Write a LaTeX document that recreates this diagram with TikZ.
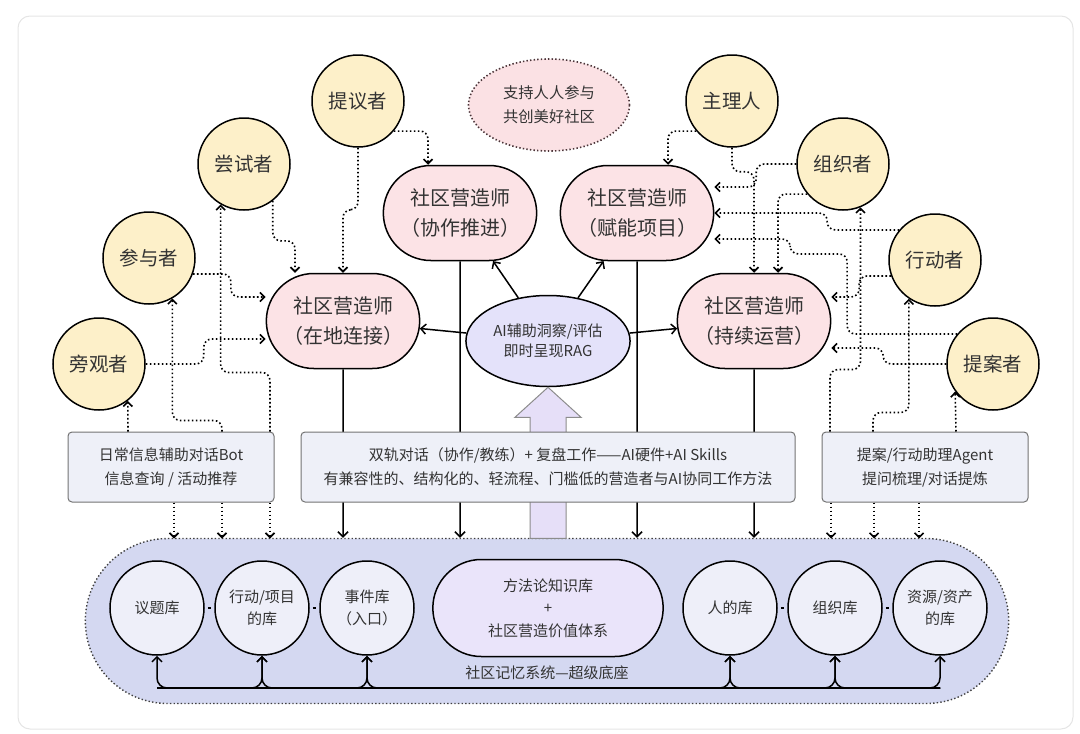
\documentclass[tikz,border=0pt]{standalone}
\usepackage{fontspec}
\setmainfont{Noto Sans CJK SC}
\usetikzlibrary{shapes.geometric,shapes.misc,arrows.meta}

\definecolor{giallo}{HTML}{FDF0C9}
\definecolor{rosa}{HTML}{FCE3E6}
\definecolor{rosamotto}{HTML}{FBE1E4}
\definecolor{bordorosa}{HTML}{4A3438}
\definecolor{lilla}{HTML}{E4E2FA}
\definecolor{azzurrino}{HTML}{EEF0F8}
\definecolor{fondoblu}{HTML}{D4D8F1}
\definecolor{cerchiochiaro}{HTML}{EEEFF9}
\definecolor{viola}{HTML}{EAE4FA}
\definecolor{frecciaviola}{HTML}{E6DFF8}
\definecolor{testo}{HTML}{333333}

\begin{document}
\begin{tikzpicture}[
    x=1pt,y=-1pt,
    font=\fontsize{15}{20}\selectfont,
    text=testo,
    ruolo/.style={circle,draw,line width=1.5pt,fill=giallo,inner sep=0pt,
                  minimum size=92pt,font=\fontsize{19.5}{24}\selectfont},
    facilitatore/.style={rounded rectangle,draw,line width=1.5pt,fill=rosa,
                  minimum width=160pt,minimum height=95pt,align=center,
                  font=\fontsize{20}{30}\selectfont},
    motto/.style={ellipse,draw=bordorosa,line width=1.6pt,
                  dash pattern=on 1.4pt off 2.2pt,fill=rosamotto,
                  minimum width=161pt,minimum height=92pt,align=center,
                  font=\fontsize{15.3}{24}\selectfont},
    aiuto/.style={ellipse,draw,line width=1.5pt,fill=lilla,
                  minimum width=160pt,minimum height=91pt,align=center},
    casella/.style={rectangle,rounded corners=4pt,draw=black!55,line width=1pt,
                  fill=azzurrino,minimum height=70pt,align=center,
                  font=\fontsize{15}{24}\selectfont},
    fondo/.style={rounded rectangle,draw=black!75,line width=1.4pt,
                  dash pattern=on 1.4pt off 2.2pt,fill=fondoblu,
                  minimum width=930pt,minimum height=165pt},
    archivio/.style={circle,draw,line width=1.5pt,fill=cerchiochiaro,
                  inner sep=0pt,minimum size=94pt,align=center,
                  font=\fontsize{15}{22}\selectfont},
    metodo/.style={rounded rectangle,draw,line width=1.5pt,fill=viola,
                  minimum width=237pt,minimum height=97pt,align=center,
                  font=\fontsize{15}{22.5}\selectfont},
    freccia/.style={line width=1.5pt,-{Straight Barb[length=5pt,width=10pt]}},
    punti/.style={line width=1.6pt,dash pattern=on 1.6pt off 2.4pt,
                  rounded corners=8pt,-{Straight Barb[length=4.5pt,width=9pt]}},
    bus/.style={line width=1.5pt,rounded corners=10pt,
                  -{Straight Barb[length=5pt,width=10pt]}},
    trattino/.style={line width=1.3pt,shorten <=3pt,shorten >=3pt},
    frecciona/.style={draw=black!45,line width=1pt,fill=frecciaviola},
    cornice/.style={draw=black!10,line width=1pt,rounded corners=12pt}]

  \useasboundingbox (0,0) rectangle (1080,734);
  \draw[cornice] (18,16) rectangle (1073,729);

  % ---- ruoli (cerchi gialli) ------------------------------------------------
  \node[ruolo] (tiyi)     at (358,101) {提议者};
  \node[ruolo] (changshi) at (244,164) {尝试者};
  \node[ruolo] (canyu)    at (149,258) {参与者};
  \node[ruolo] (pangguan) at ( 99,364) {旁观者};
  \node[ruolo] (zhuli)    at (732,101) {主理人};
  \node[ruolo] (zuzhi)    at (843,164) {组织者};
  \node[ruolo] (xingdong) at (935,260) {行动者};
  \node[ruolo] (tian)     at (993,364) {提案者};

  % ---- quattro facilitatori e l'aiuto AI ------------------------------------
  \node[facilitatore] (xiezuo) at (460,213) {社区营造师\\（协作推进）};
  \node[facilitatore] (funeng) at (637,213) {社区营造师\\（赋能项目）};
  \node[facilitatore] (zaidi)  at (343,321) {社区营造师\\（在地连接）};
  \node[facilitatore] (chixu)  at (754,321) {社区营造师\\（持续运营）};
  \node[aiuto] (ai)    at (548,341) {AI辅助洞察/评估\\即时呈现RAG};
  \node[motto] (motto) at (549,105) {支持人人参与\\共创美好社区};

  % ---- base: memoria della comunità -----------------------------------------
  \node[fondo] (fondo) at (547,621) {};
  \node[archivio] (yiti)    at (157,608) {议题库};
  \node[archivio] (xdk)     at (262,608) {行动/项目\\的库};
  \node[archivio] (shijian) at (367,608) {事件库\\（入口）};
  \node[metodo]   (metodo)  at (548,608) {方法论知识库\\+\\社区营造价值体系};
  \node[archivio] (ren)     at (730,608) {人的库};
  \node[archivio] (zzk)     at (835,608) {组织库};
  \node[archivio] (ziyuan)  at (940,608) {资源/资产\\的库};
  \node (memoria) at (547,673) {社区记忆系统—超级底座};

  \draw[trattino] (yiti) -- (xdk);
  \draw[trattino] (xdk) -- (shijian);
  \draw[trattino] (ren) -- (zzk);
  \draw[trattino] (zzk) -- (ziyuan);

  \coordinate (busL) at (157,688);
  \coordinate (busR) at (940,688);
  \draw[bus] (busR) -| (yiti);
  \draw[bus] (busL) -| (xdk);
  \draw[bus] (busR) -| (xdk);
  \draw[bus] (busL) -| (shijian);
  \draw[bus] (busR) -| (shijian);
  \draw[bus] (busL) -| (ren);
  \draw[bus] (busR) -| (ren);
  \draw[bus] (busL) -| (zzk);
  \draw[bus] (busR) -| (zzk);
  \draw[bus] (busL) -| (ziyuan);

  % ---- freccia larga verso l'AI ---------------------------------------------
  \draw[frecciona] (ai.south) -- ++(33,30) -- ++(-15,0) -- ++(0,121)
        -- ++(-36,0) -- ++(0,-121) -- ++(-15,0) -- cycle;

  % ---- archi pieni ------------------------------------------------------------
  \draw[freccia] (zaidi)  -- (zaidi  |- fondo.north);
  \draw[freccia] (xiezuo) -- (xiezuo |- fondo.north);
  \draw[freccia] (funeng) -- (funeng |- fondo.north);
  \draw[freccia] (chixu)  -- (chixu  |- fondo.north);
  \draw[freccia] (ai) -- (zaidi);
  \draw[freccia] (ai) -- (xiezuo);
  \draw[freccia] (ai) -- (funeng);
  \draw[freccia] (ai) -- (chixu);

  % ---- strumenti (caselle) ----------------------------------------------------
  \node[casella,minimum width=206pt] (bot)    at (171,467)
        {日常信息辅助对话Bot\\信息查询 / 活动推荐};
  \node[casella,minimum width=494pt] (lavoro) at (548,467)
        {双轨对话（协作/教练）+ 复盘工作——AI硬件+AI Skills\\
         有兼容性的、结构化的、轻流程、门槛低的营造者与AI协同工作方法};
  \node[casella,minimum width=206pt] (agente) at (925,467)
        {提案/行动助理Agent\\提问梳理/对话提炼};

  % ---- archi punteggiati, lato sinistro ---------------------------------------
  \draw[punti] (tiyi.-40) -| ([xshift=-32]xiezuo.north);
  \draw[punti] (tiyi.south) -- ++(0,62) -| (zaidi.north);
  \draw[punti] (changshi.-52) -- ++(0,40) -| ([xshift=-48]zaidi.north);
  \draw[punti] (canyu.-20) -- ++(38,0) |- ([yshift=24]zaidi.west);
  \draw[punti] (pangguan.east) -- ++(58,0) |- ([yshift=-18]zaidi.west);
  \draw[punti] ([xshift=-43]bot.north) -- (pangguan.-52);
  \draw[punti] ([xshift=51]bot.north) -- ++(0,-11) -| (canyu.-60);
  \draw[punti] ([xshift=99]bot.north) -- ++(0,-59) -| (changshi.-120);
  \draw[punti] ([xshift=3]bot.south)  -- ++(0,36);
  \draw[punti] ([xshift=51]bot.south) -- ++(0,36);
  \draw[punti] ([xshift=99]bot.south) -- ++(0,36);

  % ---- archi punteggiati, lato destro -----------------------------------------
  \draw[punti] (zhuli.220) -| ([xshift=31]funeng.north);
  \draw[punti] (zhuli.south) -- ++(0,24) -| (chixu.north);
  \draw[punti] (zuzhi.west) -- ++(-40,0) |- ([yshift=26]funeng.east);
  \draw[punti] (zuzhi.220) -| ([xshift=24]chixu.north);
  \draw[punti] (xingdong.140) -- ++(-72,0) |- (funeng.east);
  \draw[punti] (xingdong.200) -- ++(-32,0) |- ([yshift=24]chixu.east);
  \draw[punti] (tian.140) -- ++(-110,0) |- ++(-57,-80) |- ([yshift=-26]funeng.east);
  \draw[punti] (tian.west) -- ++(-63,0) |- ([yshift=-27]chixu.east);
  \draw[punti] ([xshift=-95]agente.north) -- ++(0,-62) -| (zuzhi.-68);
  \draw[punti] ([xshift=-52]agente.north) -- ++(0,-19) -| (xingdong.-124);
  \draw[punti] ([xshift=31]agente.north) -- (tian.-144);
  \draw[punti] ([xshift=-94]agente.south) -- ++(0,36);
  \draw[punti] ([xshift=-51]agente.south) -- ++(0,36);
  \draw[punti] ([xshift=-6]agente.south)  -- ++(0,36);

\end{tikzpicture}
\end{document}
